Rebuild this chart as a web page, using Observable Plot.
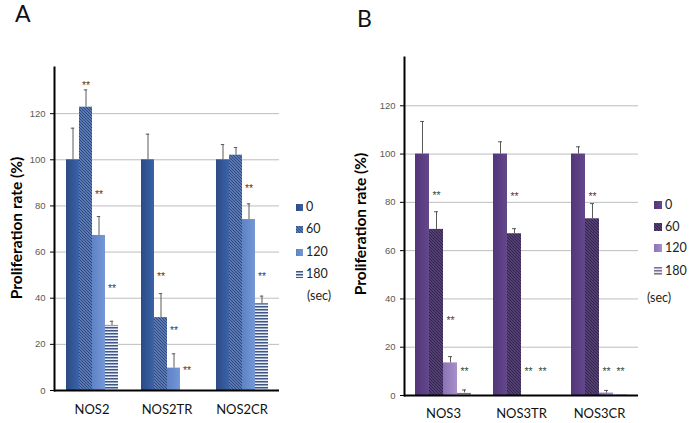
<!DOCTYPE html>
<html>
<head>
<meta charset="utf-8">
<script src="https://cdn.jsdelivr.net/npm/d3@7"></script>
<script src="https://cdn.jsdelivr.net/npm/@observablehq/plot@0.6"></script>
<style>
  body { margin: 0; background: #fff; }
  #root { position: relative; width: 689px; height: 423px; background: #fff; overflow: hidden; font-family: Lato, "Open Sans", sans-serif; }
  .abs { position: absolute; }
  .ptitle { position: absolute; font-size: 23px; color: #111; line-height: 1; }
  .ytitle { position: absolute; font-weight: bold; font-size: 15.5px; color: #000; white-space: nowrap; transform: translate(-50%, -50%) rotate(-90deg); line-height: 1; }
  .leg { position: absolute; font-size: 12.5px; color: #222; white-space: nowrap; line-height: 1; display: flex; align-items: center; }
  .leg svg { margin-right: 3px; }
</style>
</head>
<body>
<div id="root">
  <svg width="0" height="0" style="position:absolute">
    <defs>
      <linearGradient id="gA0" x1="0" x2="1" y1="0" y2="0">
        <stop offset="0" stop-color="#2b4b84"/><stop offset="1" stop-color="#3b63a8"/>
      </linearGradient>
      <pattern id="hA60" patternUnits="userSpaceOnUse" width="3" height="3">
        <rect width="3" height="3" fill="#7090cc"/>
        <path d="M-1,2 L1,4 M0,0 L3,3 M2,-1 L4,1" stroke="#2a467c" stroke-width="1.2"/>
      </pattern>
      <linearGradient id="gA120" x1="0" x2="1" y1="0" y2="0">
        <stop offset="0" stop-color="#5d82c6"/><stop offset="1" stop-color="#7597d6"/>
      </linearGradient>
      <pattern id="sA180" patternUnits="userSpaceOnUse" width="4" height="3">
        <rect width="4" height="3" fill="#e9edf5"/>
        <rect width="4" height="1.5" fill="#3e5587"/>
      </pattern>
      <linearGradient id="gB0" x1="0" x2="1" y1="0" y2="0">
        <stop offset="0" stop-color="#523679"/><stop offset="1" stop-color="#64478c"/>
      </linearGradient>
      <pattern id="hB60" patternUnits="userSpaceOnUse" width="3" height="3">
        <rect width="3" height="3" fill="#6c5891"/>
        <path d="M-1,2 L1,4 M0,0 L3,3 M2,-1 L4,1" stroke="#33234d" stroke-width="1.3"/>
      </pattern>
      <linearGradient id="gB120" x1="0" x2="1" y1="0" y2="0">
        <stop offset="0" stop-color="#8c72b4"/><stop offset="1" stop-color="#a690c9"/>
      </linearGradient>
      <pattern id="sB180" patternUnits="userSpaceOnUse" width="4" height="3">
        <rect width="4" height="3" fill="#ebe7f0"/>
        <rect width="4" height="1.5" fill="#7d6e92"/>
      </pattern>
    </defs>
  </svg>
  <div id="panelA" class="abs" style="left:0;top:0"></div>
  <div id="panelB" class="abs" style="left:345px;top:0"></div>
</div>
<script>
// ---------- data ----------
const series = ["0", "60", "120", "180"];
const unitLabel = "(sec)";
const yTitle = "Proliferation rate (%)";
const panelLabels = ["A", "B"];
const yTicks = [0, 20, 40, 60, 80, 100, 120];

const groupsA = ["NOS2", "NOS2TR", "NOS2CR"];
const meanA = [[100, 122.8, 67.2, 28.2], [100, 31.6, 9.7, 0], [100, 102, 74.1, 37.6]];
const errA  = [[113.7, 130.3, 75.4, 30.0], [111.1, 42.0, 15.9, null], [106.6, 105.3, 80.9, 40.9]];
const starA = [[null, 133.6, 86.3, 45.5], [null, 50.7, 27.3, 10.1], [null, null, 88.6, 50.7]];

const groupsB = ["NOS3", "NOS3TR", "NOS3CR"];
const meanB = [[100, 68.8, 13.5, 1.1], [100, 67.0, 0, 0], [100, 73.2, 1.0, 0.3]];
const errB  = [[113.5, 76.1, 16.1, 2.3], [105.1, 69.1, null, null], [103.0, 79.5, 2.1, null]];
const starB = [[null, 83.9, 32.3, 11.3], [null, 83.8, 11.2, 11.2], [null, 83.8, 11.2, 11.2]];

// ---------- styles ----------
const fillsA = ["url(#gA0)", "url(#hA60)", "url(#gA120)", "url(#sA180)"];
const fillsB = ["url(#gB0)", "url(#hB60)", "url(#gB120)", "url(#sB180)"];
const font = "Lato, 'Open Sans', sans-serif";
const tickFont = "'Liberation Sans', Arial, sans-serif";

function table(groups, mean, err, star) {
  const rows = [];
  groups.forEach((g, gi) => series.forEach((s, si) => {
    rows.push({group: g, series: s, value: mean[gi][si], err: err[gi][si], star: star[gi][si]});
  }));
  return rows;
}

function panel(groups, rows, fills, dims) {
  const withErr = rows.filter(d => d.err != null);
  const withStar = rows.filter(d => d.star != null);
  return Plot.plot({
    width: dims.width, height: dims.height,
    marginLeft: dims.ml, marginRight: dims.mr, marginTop: dims.mt, marginBottom: dims.mb,
    style: {fontFamily: font, background: "transparent", overflow: "visible"},
    fx: {domain: groups, padding: 0, label: null},
    x: {domain: series, paddingInner: 0, paddingOuter: 0.73, axis: null},
    y: {domain: [0, 140], axis: null},
    marks: [
      Plot.gridY(yTicks.filter(t => t > 0), {stroke: "#bdbdbd", strokeOpacity: 1, strokeWidth: 1}),
      ...series.map((s, i) => Plot.barY(rows.filter(d => d.series === s), {fx: "group", x: "series", y: "value", fill: fills[i]})),
      Plot.ruleX(withErr, {fx: "group", x: "series", y1: "value", y2: "err", stroke: "#5a5a5a", strokeWidth: 1}),
      Plot.tickY(withErr, {fx: "group", x: "series", y: "err", stroke: "#5a5a5a", strokeWidth: 1, insetLeft: dims.cap, insetRight: dims.cap}),
      Plot.text(withStar, {fx: "group", x: "series", y: "star", text: () => "**", fontSize: 10.5, fill: "#444", dy: 3, fontFamily: tickFont}),
      Plot.ruleY([0], {stroke: "#000", strokeWidth: 2.2}),
      Plot.axisY({ticks: yTicks, tickSize: 4, tickPadding: 5, fontSize: 9.5, fill: "#595959", stroke: "#000", label: null, fontFamily: tickFont}),
      Plot.axisFx({anchor: "bottom", tickSize: 0, tickPadding: dims.fxPad, fontSize: 13, fill: "#111", label: null, fontFamily: font}),
      Plot.frame({anchor: "left", facet: "super", stroke: "#000", strokeWidth: 2})
    ]
  });
}

const rowsA = table(groupsA, meanA, errA, starA);
const rowsB = table(groupsB, meanB, errB, starB);

document.getElementById("panelA").appendChild(
  panel(groupsA, rowsA, fillsA, {width: 290, height: 423, ml: 54, mr: 11, mt: 67, mb: 33, cap: 4.8, fxPad: 14})
);
document.getElementById("panelB").appendChild(
  panel(groupsB, rowsB, fillsB, {width: 344, height: 423, ml: 59, mr: 51, mt: 57, mb: 28, cap: 5, fxPad: 13})
);

// ---------- text & legends ----------
const root = document.getElementById("root");
function addDiv(cls, text, css) {
  const d = document.createElement("div");
  d.className = cls;
  d.textContent = text;
  Object.assign(d.style, css);
  root.appendChild(d);
  return d;
}
addDiv("ptitle", panelLabels[0], {left: "15px", top: "2px"});
addDiv("ptitle", panelLabels[1], {left: "357px", top: "7px"});
addDiv("ytitle", yTitle, {left: "17px", top: "228px"});
addDiv("ytitle", yTitle, {left: "361px", top: "224px"});

function legend(fills, x, ys, size, unitPos) {
  series.forEach((s, i) => {
    const d = document.createElement("div");
    d.className = "leg";
    d.style.left = x + "px";
    d.style.top = (ys[i] - 7) + "px";
    d.style.height = "14px";
    d.innerHTML = `<svg width="${size}" height="${size}"><rect width="${size}" height="${size}" fill="${fills[i]}"/></svg><span>${s}</span>`;
    root.appendChild(d);
  });
  addDiv("leg", unitLabel, {left: unitPos[0] + "px", top: (unitPos[1] - 7) + "px", height: "14px"});
}
legend(fillsA, 296, [207, 229, 252, 274], 7, [307, 296]);
legend(fillsB, 654, [205, 227, 248, 271], 8, [647, 298]);
</script>
</body>
</html>
